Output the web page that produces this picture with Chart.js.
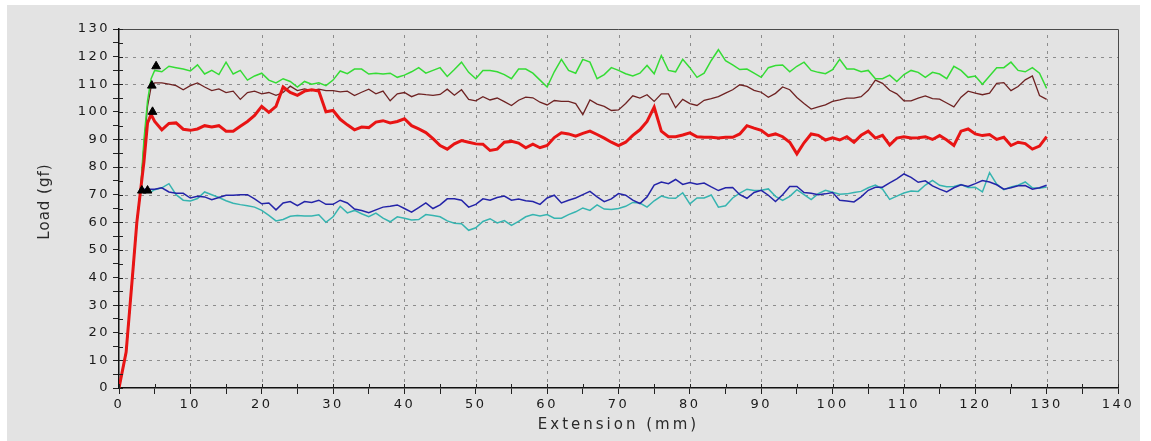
<!DOCTYPE html>
<html>
<head>
<meta charset="utf-8">
<script src="https://cdn.jsdelivr.net/npm/chart.js@4.4.1/dist/chart.umd.min.js"></script>
<style>
  html, body { margin: 0; padding: 0; background: #fff; }
</style>
</head>
<body>
<canvas id="loadChart" width="1151" height="441"></canvas>
<script>
// extension (mm): ramp points, then every 1 mm from 5 to 130
const extension = [0, 1, 2, 2.5, 3, 3.5, 4, 4.5];
for (let mm = 5; mm <= 130; mm++) extension.push(mm);

const greenLoad = [0, 13, 44, 60, 71, 90, 104, 112,
  115, 114.5, 116.5, 116, 115.5, 114.8,
  117, 113.7, 115, 113.5, 118, 113.7, 115, 111.5, 113, 114,
  111.5, 110.5, 112, 111, 109, 111, 110, 110.5, 109.5, 111.5,
  114.8, 113.8, 115.5, 115.5, 113.7, 114, 113.7, 114, 112.5, 113.3,
  114.5, 116, 114, 115, 116, 112.8, 115.3, 118, 114.3, 112,
  115, 115, 114.5, 113.5, 112, 115.5, 115.5, 114, 111.5, 109,
  114.5, 119, 115, 114, 119, 118, 112, 113.5, 116, 115,
  113.8, 113, 114, 116.8, 113.8, 120.4, 115, 114.5, 119, 116,
  112.5, 114, 118.6, 122.5, 118.5, 117, 115.3, 115.5, 114, 112.5,
  116, 116.8, 117, 114.5, 116.5, 118, 115, 114.3, 113.8, 115.3,
  119, 115.5, 115.5, 114.5, 115, 112, 112, 113.3, 111, 113.5,
  115, 114.3, 112.5, 114.3, 113.7, 112, 116.5, 115, 112.5, 113,
  110, 113, 116, 116, 118, 115, 114.5, 116, 114, 108.5];

const brownLoad = [0, 13, 44, 60, 71, 88, 102, 109,
  110.5, 110.5, 110, 109.5, 108, 109.5,
  110.5, 109, 107.7, 108.3, 107, 107.5, 104.5, 107, 107.5, 106.5,
  107, 106, 107, 109.3, 107.7, 108.3, 107.7, 108.2, 107.7, 107.7,
  107.2, 107.5, 105.9, 107.1, 108.2, 106.5, 107.5, 104, 106.5, 107,
  105.5, 106.5, 106.2, 106, 106.3, 108.2, 106, 108, 104.5, 104,
  105.5, 104.3, 105, 103.7, 102.3, 104.2, 105.3, 105.1, 103.5, 102.5,
  104.1, 103.8, 103.8, 103, 99, 104.3, 102.8, 102, 100.5, 100.7,
  103, 105.8, 105, 106.2, 103.8, 106.5, 106.5, 101.5, 104.5, 103,
  102.3, 104.2, 104.8, 105.5, 106.8, 108, 109.8, 109.2, 107.8, 107.1,
  105.3, 106.7, 109, 108, 105.2, 103, 101, 101.8, 102.5, 103.8,
  104.3, 105, 105, 105.5, 107.8, 111.5, 110.3, 107.8, 106.5, 104,
  104, 105, 105.8, 104.8, 104.6, 103.2, 101.8, 105.3, 107.5, 106.8,
  106.2, 106.8, 110.3, 110.6, 107.7, 109.2, 111.6, 113, 105.9, 104.5];

const redLoad = [0, 13, 44, 60, 71, 82, 96, 99,
  96.5, 93.5, 95.8, 96, 93.7, 93.3,
  93.8, 95, 94.5, 95, 93, 93, 94.8, 96.5, 98.7, 102,
  99.8, 102, 109, 107, 106, 107.5, 108, 107.5, 100, 100.5,
  97.3, 95.3, 93.5, 94.5, 94.3, 96.3, 96.8, 96, 96.5, 97.5,
  95, 93.8, 92.5, 90.3, 87.8, 86.5, 88.4, 89.6, 89, 88.4,
  88.3, 86, 86.5, 89, 89.3, 88.7, 87, 88.3, 87, 87.8,
  90.7, 92.4, 92, 91.2, 92.2, 93, 91.8, 90.5, 89, 87.8,
  89, 91.5, 93.5, 96.5, 101.7, 93, 91, 91, 91.6, 92.4,
  91, 90.8, 90.8, 90.5, 90.8, 90.8, 92, 95, 94.1, 93.3,
  91.4, 92, 91, 89, 84.8, 88.8, 92, 91.5, 89.8, 90.6,
  89.8, 91, 89, 91.5, 93, 90.5, 91.5, 88, 90.5, 91,
  90.5, 90.6, 91, 90, 91.4, 89.8, 87.8, 93, 93.8, 92,
  91.4, 91.8, 90, 90.8, 87.8, 89, 88.5, 86.5, 87.6, 91];

const blueLoad = [0, 13, 44, 60, 71, 72, 72, 72,
  72, 72.5, 71, 70.5, 70.5, 68.8,
  69.4, 69.2, 68.2, 69, 69.8, 69.8, 70, 70, 68.5, 66.7,
  67, 64.5, 67, 67.5, 66, 67.5, 67.2, 68, 66.5, 66.5,
  68, 67, 64.8, 64.3, 63.5, 64.5, 65.5, 65.8, 66.3, 65,
  63.7, 65.3, 67, 65, 66.3, 68.5, 68.5, 68, 65.5, 66.5,
  68.5, 68, 69, 69.5, 68, 68.4, 67.8, 67.5, 66.5, 68.8,
  69.8, 67, 68, 68.8, 70, 71.2, 69.2, 67.5, 68.5, 70.4,
  69.8, 68, 66.8, 69.2, 73.5, 74.6, 74, 75.5, 73.7, 74.4,
  73.8, 74.2, 72.8, 71.5, 72.5, 72.6, 70, 68.7, 70.8, 71.6,
  69.8, 67.5, 70, 73, 73, 70.8, 70.5, 70, 70.3, 70.8,
  68, 67.7, 67.4, 69.2, 71.6, 72.7, 72.7, 74.3, 75.7, 77.5,
  76.3, 74.5, 75, 73.2, 72, 71, 72.5, 73.6, 73, 74,
  75.1, 74.6, 73.6, 72, 72.5, 73.2, 73.3, 72, 72.5, 73.4];

const cyanLoad = [0, 13, 44, 60, 71, 71, 72, 71,
  71.8, 72.5, 74, 70, 68, 67.7,
  68.6, 71, 70, 69, 67.8, 66.9, 66.4, 66, 65.5, 64.3,
  62.5, 60.5, 61, 62.2, 62.5, 62.3, 62.3, 62.7, 60, 62,
  65.8, 63.4, 64.3, 63.1, 62, 63.3, 61.5, 60.2, 62, 61.5,
  60.8, 61, 62.8, 62.5, 62, 60.5, 59.7, 59.5, 57.1, 58,
  60.3, 61.3, 59.8, 60.6, 58.9, 60.3, 62, 62.8, 62.3, 62.8,
  61.5, 61.5, 62.8, 63.8, 65.2, 64.3, 66.3, 64.8, 64.6, 65,
  65.8, 67.2, 67, 65.5, 67.8, 69.5, 68.8, 68.7, 70.7, 66.7,
  68.8, 68.8, 69.9, 65.5, 66, 68.8, 70.6, 72, 71.5, 71.6,
  72.1, 69.4, 67.9, 69.4, 71.8, 70, 68.2, 70.4, 71.6, 70.9,
  70.2, 70.3, 70.8, 71.2, 72.5, 73.5, 72, 68.3, 69.5, 70.6,
  71.3, 71.2, 73.5, 75.2, 73.4, 72.9, 73, 73.7, 72.6, 72.7,
  71, 78, 73.8, 71.8, 72.8, 73.4, 74.6, 72.5, 72.3, 72.8];

// peak markers (black triangles)
const peakExt = [5.2, 4.6, 4.7, 3.2, 4.0];
const peakLoad = [116.5, 109.5, 100, 71.5, 71.5];

const xTicks = { min: 0, max: 140, step: 5 };
const yTicks = { min: 0, max: 130, step: 5 };
const xTitle = 'Extension (mm)';
const yTitle = 'Load (gf)';

const toPoints = ys => extension.map((x, i) => ({ x: x, y: ys[i] }));

const tickFont = { family: 'DejaVu Sans', size: 13 };

const framePlugin = {
  id: 'frame',
  beforeDraw(chart) {
    const ctx = chart.ctx;
    ctx.save();
    ctx.fillStyle = '#ffffff';
    ctx.fillRect(0, 0, chart.width, chart.height);
    ctx.fillStyle = '#e3e3e3';
    ctx.fillRect(7, 5, 1133, 436);
    ctx.restore();
    ctx.letterSpacing = '2.5px';
  },
  beforeDatasetsDraw(chart) {
    // dotted grid every 10 units, behind the curves
    const { ctx, chartArea: a } = chart;
    const xs = chart.scales.x, ys = chart.scales.y;
    ctx.save();
    ctx.strokeStyle = '#8c8c8c';
    ctx.lineWidth = 1;
    ctx.setLineDash([3, 5]);
    ctx.beginPath();
    for (let v = yTicks.min + 10; v < yTicks.max; v += 10) {
      const py = Math.round(ys.getPixelForValue(v)) + 0.5;
      ctx.moveTo(a.left + 6, py);
      ctx.lineTo(a.right, py);
    }
    for (let v = xTicks.min + 10; v < xTicks.max; v += 10) {
      const px = Math.round(xs.getPixelForValue(v)) + 0.5;
      ctx.moveTo(px, a.bottom - 6);
      ctx.lineTo(px, a.top);
    }
    ctx.stroke();
    ctx.restore();
  },
  afterDraw(chart) {
    const { ctx, chartArea: a } = chart;
    const xs = chart.scales.x, ys = chart.scales.y;
    ctx.save();
    ctx.strokeStyle = '#4a4a4a';
    ctx.lineWidth = 1;
    ctx.beginPath();
    ctx.moveTo(a.left, a.top + 0.5);
    ctx.lineTo(a.right + 0.5, a.top + 0.5);
    ctx.lineTo(a.right + 0.5, a.bottom);
    ctx.stroke();
    // short inner part of the tick marks
    ctx.strokeStyle = '#222';
    ctx.beginPath();
    for (let v = yTicks.min; v <= yTicks.max; v += yTicks.step) {
      const py = Math.round(ys.getPixelForValue(v)) + 0.5;
      ctx.moveTo(a.left, py);
      ctx.lineTo(a.left + 4, py);
    }
    for (let v = xTicks.min; v <= xTicks.max; v += xTicks.step) {
      const px = Math.round(xs.getPixelForValue(v)) + 0.5;
      ctx.moveTo(px, a.bottom);
      ctx.lineTo(px, a.bottom - 4);
    }
    ctx.stroke();

    // axis titles
    ctx.fillStyle = '#2a2a2a';
    ctx.font = '15px "DejaVu Sans"';
    ctx.textAlign = 'left';
    ctx.textBaseline = 'middle';
    ctx.letterSpacing = '3px';
    let w = ctx.measureText(xTitle).width;
    ctx.fillText(xTitle, (a.left + a.right) / 2 - w / 2, 425);
    ctx.letterSpacing = '1px';
    w = ctx.measureText(yTitle).width;
    ctx.translate(45, (a.top + a.bottom) / 2 - 7);
    ctx.rotate(-Math.PI / 2);
    ctx.fillText(yTitle, -w / 2, 0);
    ctx.restore();
  }
};

new Chart(document.getElementById('loadChart').getContext('2d'), {
  type: 'line',
  data: {
    datasets: [
      {
        type: 'scatter',
        label: 'Peak',
        data: peakExt.map((x, i) => ({ x: x, y: peakLoad[i] })),
        pointStyle: 'triangle',
        pointRadius: 5,
        backgroundColor: '#000',
        borderColor: '#000',
        showLine: false
      },
      { label: 'Sample 3', data: toPoints(redLoad), borderColor: '#e81414', borderWidth: 3 },
      { label: 'Sample 1', data: toPoints(greenLoad), borderColor: '#35dc35', borderWidth: 1.5 },
      { label: 'Sample 2', data: toPoints(brownLoad), borderColor: '#6e2222', borderWidth: 1.3 },
      { label: 'Sample 4', data: toPoints(blueLoad), borderColor: '#2424a8', borderWidth: 1.5 },
      { label: 'Sample 5', data: toPoints(cyanLoad), borderColor: '#36b4b0', borderWidth: 1.5 }
    ]
  },
  options: {
    responsive: false,
    animation: false,
    events: [],
    elements: { line: { tension: 0, fill: false }, point: { radius: 0 } },
    layout: { padding: { top: 29, right: 33, left: 0, bottom: 0 } },
    plugins: { legend: { display: false }, tooltip: { enabled: false } },
    scales: {
      x: {
        type: 'linear',
        min: xTicks.min,
        max: xTicks.max,
        ticks: {
          stepSize: xTicks.step,
          autoSkip: false,
          maxRotation: 0,
          padding: 3,
          color: '#1a1a1a',
          font: tickFont,
          callback: v => (v % 10 === 0 ? v : '')
        },
        grid: { drawOnChartArea: false, tickColor: '#222', tickLength: 6, tickWidth: 1 },
        border: { display: true, color: '#111', width: 1.5 },
        title: { display: false },
        afterFit: s => { s.height = 53; }
      },
      y: {
        type: 'linear',
        min: yTicks.min,
        max: yTicks.max,
        ticks: {
          stepSize: yTicks.step,
          autoSkip: false,
          padding: 3,
          color: '#1a1a1a',
          font: tickFont,
          callback: v => (v % 10 === 0 ? v : '')
        },
        grid: { drawOnChartArea: false, tickColor: '#222', tickLength: 6, tickWidth: 1 },
        border: { display: true, color: '#111', width: 1.5 },
        title: { display: false },
        afterFit: s => { s.width = 119; }
      }
    }
  },
  plugins: [framePlugin]
});
</script>
</body>
</html>
